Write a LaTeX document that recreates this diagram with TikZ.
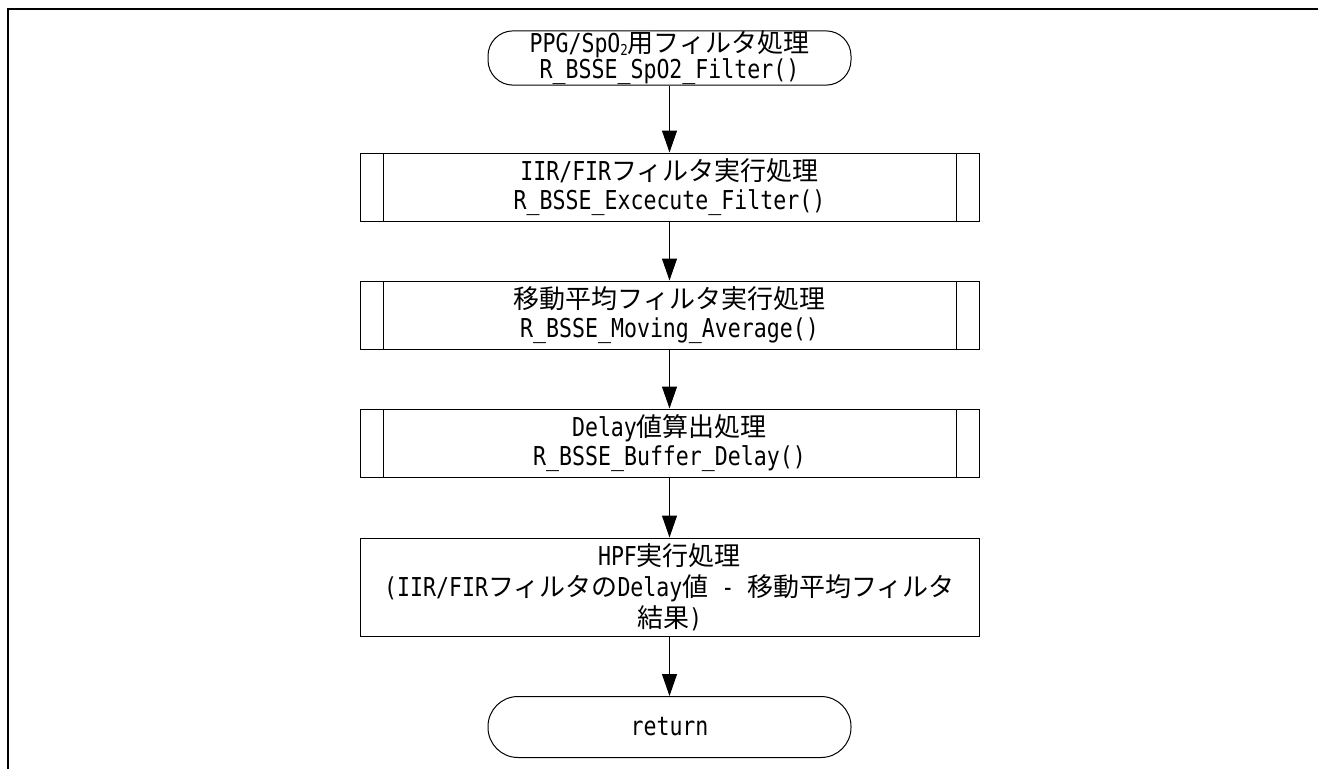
\documentclass[tikz,border=0pt]{standalone}
\usepackage{fontspec}
\setmainfont{DejaVu Sans Mono}[FakeStretch=0.83]
\newfontfamily\jafont{Noto Sans CJK JP}
\newcommand\J[1]{{\jafont #1}}
\usetikzlibrary{arrows.meta}
\tikzset{
  term/.style={draw, line width=1pt, rounded corners=25pt, minimum width=363pt, minimum height=50pt, inner sep=0pt, align=center, font=\fontsize{26}{25}\selectfont},
  procbox/.style={draw, line width=1pt, minimum width=619pt, minimum height=68pt, inner sep=0pt, align=center, font=\fontsize{26}{29.5}\selectfont,
    path picture={
      \draw[line width=1pt] ([xshift=23pt]path picture bounding box.north west) -- ([xshift=23pt]path picture bounding box.south west);
      \draw[line width=1pt] ([xshift=-23pt]path picture bounding box.north east) -- ([xshift=-23pt]path picture bounding box.south east);
    }},
  plainbox/.style={draw, line width=1pt, minimum width=619pt, minimum height=98pt, inner sep=0pt, align=center, font=\fontsize{26}{31}\selectfont},
  arr/.style={-{Triangle[length=22pt,width=15pt]}, line width=1pt}
}
\begin{document}
\begin{tikzpicture}[x=1pt,y=-1pt]
\useasboundingbox (0,0) rectangle (1318,769);
\draw[line width=1.7pt] (8,769) -- (8,9) -- (1318,9);
\node[term] (start) at (669.5,58) {PPG/SpO\raisebox{-3pt}{\fontsize{15}{15}\selectfont 2}\J{用フィルタ処理}\\R\_BSSE\_SpO2\_Filter()};
\node[procbox] (p1) at (669.5,187) {IIR/FIR\J{フィルタ実行処理}\\R\_BSSE\_Excecute\_Filter()};
\node[procbox] (p2) at (669.5,315) {\J{移動平均フィルタ実行処理}\\R\_BSSE\_Moving\_Average()};
\node[procbox] (p3) at (669.5,443) {Delay\J{値算出処理}\\R\_BSSE\_Buffer\_Delay()};
\node[plainbox] (hpf) at (669.5,587) {HPF\J{実行処理}\\(IIR/FIR\J{フィルタの}Delay\J{値} - \J{移動平均フィルタ}\\\J{結果})};
\node[term, minimum height=61pt, rounded corners=30pt] (ret) at (669.5,727) {return};
\draw[arr] (start) -- (p1);
\draw[arr] (p1) -- (p2);
\draw[arr] (p2) -- (p3);
\draw[arr] (p3) -- (hpf);
\draw[arr] (hpf) -- (ret);
\end{tikzpicture}
\end{document}
